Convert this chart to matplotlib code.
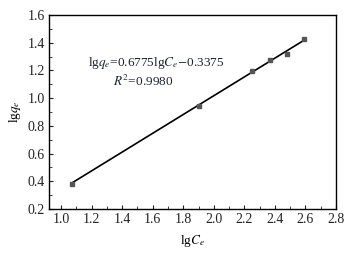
import numpy as np
import matplotlib
matplotlib.use("Agg")
from matplotlib import pyplot as plt
from matplotlib.ticker import MultipleLocator

# data
lg_ce = [1.07, 1.90, 2.25, 2.37, 2.48, 2.59]
lg_qe = [0.38, 0.943, 1.195, 1.275, 1.315, 1.425]
slope = 0.6775
intercept = -0.3375

plt.rcParams['font.family'] = ['Liberation Serif', 'DejaVu Serif']
plt.rcParams['mathtext.fontset'] = 'stix'

fig = plt.figure(figsize=(3.54, 2.54), dpi=100)
ax = fig.add_axes([0.138, 0.177, 0.811, 0.764])

# fitted line
xs = np.array([lg_ce[0], lg_ce[-1]])
ax.plot(xs, slope * xs + intercept, color='black', lw=1.2, zorder=2)
ax.plot(lg_ce, lg_qe, 's', color='#555555', ms=3.2, zorder=3)

ax.set_xlim(0.92, 2.8)
ax.set_ylim(0.2, 1.6)
ax.xaxis.set_major_locator(MultipleLocator(0.2))
ax.xaxis.set_minor_locator(MultipleLocator(0.1))
ax.yaxis.set_major_locator(MultipleLocator(0.2))
ax.yaxis.set_minor_locator(MultipleLocator(0.1))
ax.tick_params(which='both', direction='in', labelsize=10, pad=3, colors='#222222')
ax.tick_params(which='major', length=3)
ax.tick_params(which='minor', length=2)
for s in ax.spines.values():
    s.set_linewidth(1.0)

ax.set_xlabel(r'lg$C_e$', fontsize=9.5, labelpad=5)
ax.set_ylabel(r'lg$q_e$', fontsize=9.5, labelpad=3)

ax.text(0.136, 0.753, r'lg$q_e$=0.6775lg$C_e$$-$0.3375', transform=ax.transAxes,
        fontsize=9.5, color='#1f2233', va='center')
ax.text(0.223, 0.655, r'$R^2$=0.9980', transform=ax.transAxes,
        fontsize=9.5, color='#1f2233', va='center')

fig.savefig('out.png', dpi=100)
